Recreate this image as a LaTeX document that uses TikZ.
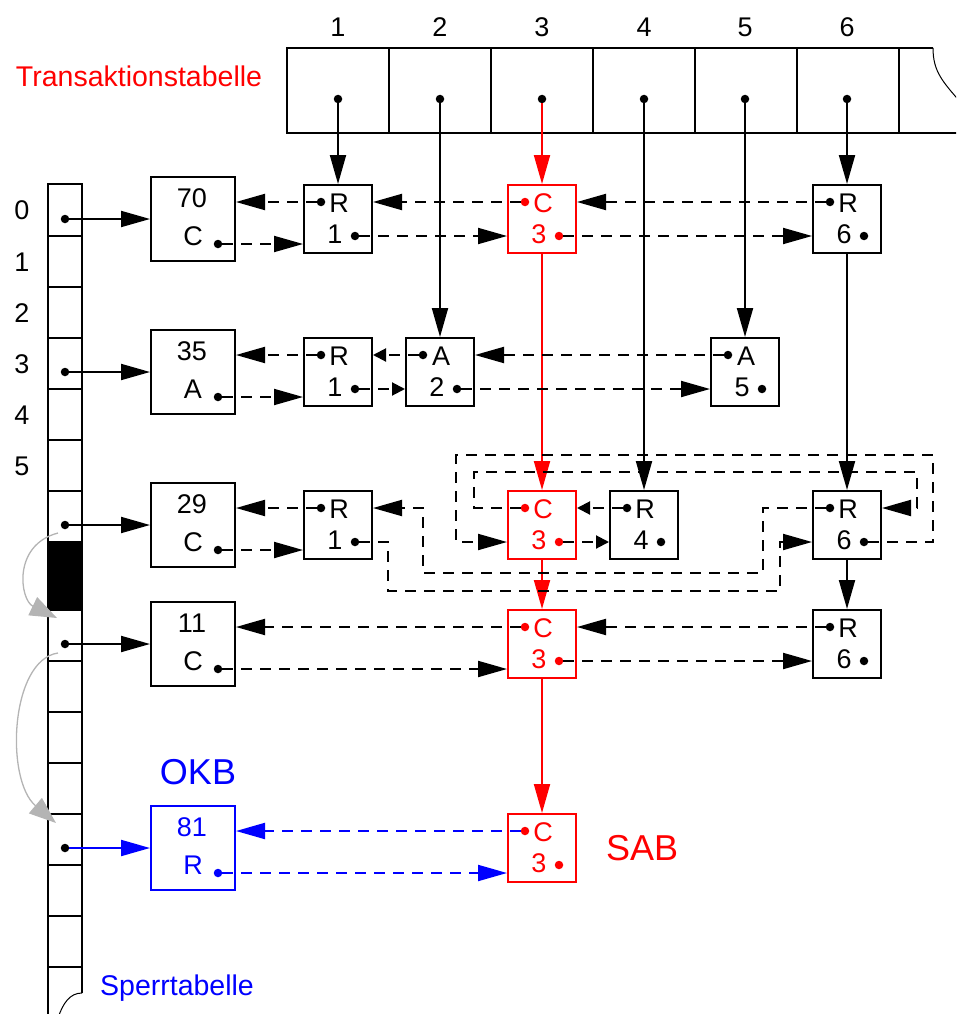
\documentclass[tikz,border=0pt]{standalone}
\usepackage{fontspec}
\setmainfont{Liberation Sans}
\usetikzlibrary{arrows.meta,positioning,calc}
\definecolor{TxRed}{HTML}{FF0000}
\definecolor{OkbBlue}{HTML}{0000FF}
\definecolor{ArcGray}{HTML}{B4B4B4}
\newcommand{\lblfont}{\fontsize{27}{27}\selectfont}
\newcommand{\capfont}{\fontsize{28.5}{30}\selectfont}
\newcommand{\bigfont}{\fontsize{36}{38}\selectfont}
\tikzset{
  % Transaction entry
  TB/.style={rectangle,draw,line width=2pt,
             minimum width=68pt,minimum height=68pt,inner sep=0pt},
  % Lock head entry
  LB/.style={rectangle,draw,line width=2pt,
             minimum width=84pt,minimum height=84pt,inner sep=0pt},
  % Pointer dot
  dotn/.style={circle,fill,inner sep=0pt,minimum size=8.5pt},
  % Texts
  lbl/.style={inner sep=0pt,font=\lblfont},
  % Arrows
  arr/.style={-{Triangle[length=29pt,width=16pt]},line width=2pt},
  sarr/.style={-{Triangle[length=13pt,width=13pt]},line width=2pt},
  garr/.style={-{Triangle[length=27pt,width=20pt]},line width=1.3pt,ArcGray},
  dsh/.style={dash pattern=on 11pt off 8pt},
  tbl/.style={line width=2pt}
}
% transaction entry: [colour]{name}{x}{y}{mode}{tx}
\newcommand{\txbox}[6][black]{%
  \node[TB,draw=#1] (#2) at (#3,#4) {};
  \node[dotn,fill=#1] (#2p) at ([shift={(-17,-17)}]#2.center) {};
  \node[lbl,text=#1] (#2l) at ([shift={(1,-16)}]#2.center) {#5};
  \node[lbl,text=#1] (#2d) at ([shift={(-3,15)}]#2.center) {#6};
  \node[dotn,fill=#1] (#2n) at ([shift={(17,17)}]#2.center) {};
}
% lock head: [colour]{name}{y}{object}{mode}
\newcommand{\lockbox}[5][black]{%
  \node[LB,draw=#1] (#2) at (193,#3) {};
  \node[lbl,text=#1] (#2a) at ([shift={(-1,-21)}]#2.center) {#4};
  \node[lbl,text=#1] (#2b) at ([shift={(0,17)}]#2.center) {#5};
  \node[dotn,fill=#1] (#2n) at ([shift={(25,25)}]#2.center) {};
}

\begin{document}
\begin{tikzpicture}[x=1pt,y=-1pt]
  \clip (0,0) rectangle (956,1014);
  % Transaction table
  \draw[tbl] (933,48) -- (287,48) -- (287,133) -- (960,133);
  \foreach \x in {389,491,593,695,797,899} \draw[tbl] (\x,48) -- (\x,133);
  \draw[line width=1pt] (933,48) .. controls (933,72) and (943,82) .. (962,104);
  \foreach \c/\x in {1/338,2/440,3/542,4/644,5/745,6/847} {
    \node[lbl] (h\c) at (\x,27) {\c};
    \node[dotn] (t\c) at (\x,99) {};
  }
  \node[font=\capfont,text=TxRed,inner sep=0pt] (ttab) at (139,76) {Transaktionstabelle};

  % Lock table
  \draw[tbl] (48,1020) -- (48,184) -- (82,184) -- (82,993);
  \fill (48,541) rectangle (82,611);
  \foreach \y in {236,287,338,389,440,491,661,712,763,814,865,916,967}
    \draw[tbl] (48,\y) -- (82,\y);
  \draw[line width=1pt] (82,993) .. controls (70,993) and (63,1003) .. (58,1018);
  \foreach \i/\y in {0/210,1/262,2/313,3/364,4/415,5/466}
    \node[lbl] (r\i) at (22,\y) {\i};
  \node[font=\capfont,text=OkbBlue,inner sep=0pt,anchor=base west] (stab) at (100,995) {Sperrtabelle};
  \foreach \i/\y in {1/219,2/372,3/525,4/644,5/848}
    \node[dotn] (s\i) at (65,\y) {};

  % Lock heads
  \lockbox{L70}{219}{70}{C}
  \lockbox{L35}{372}{35}{A}
  \lockbox{L29}{525}{29}{C}
  \lockbox{L11}{644}{11}{C}
  \lockbox[OkbBlue]{L81}{848}{81}{R}
  \node[font=\bigfont,text=OkbBlue,inner sep=0pt,above=20pt of L81,xshift=5pt] (okb) {OKB};

  % Transaction entries
  \txbox{b11}{338}{219}{R}{1}
  \txbox[TxRed]{b13}{542}{219}{C}{3}
  \txbox{b16}{847}{219}{R}{6}
  \txbox{b21}{338}{372}{R}{1}
  \txbox{b22}{440}{372}{A}{2}
  \txbox{b25}{745}{372}{A}{5}
  \txbox{b31}{338}{525}{R}{1}
  \txbox[TxRed]{b33}{542}{525}{C}{3}
  \txbox{b34}{644}{525}{R}{4}
  \txbox{b36}{847}{525}{R}{6}
  \txbox[TxRed]{b43}{542}{644}{C}{3}
  \txbox{b46}{847}{644}{R}{6}
  \txbox[TxRed]{b53}{542}{848}{C}{3}
  \node[font=\bigfont,text=TxRed,inner sep=0pt,right=29pt of b53] (sab) {SAB};

  % Lock table -> lock heads
  \draw[arr] (s1) -- (L70);
  \draw[arr] (s2) -- (L35);
  \draw[arr] (s3) -- (L29);
  \draw[arr] (s4) -- (L11);
  \draw[arr,OkbBlue] (s5) -- (L81);
  \draw[garr] (58,533) .. controls (12,545) and (20,600) .. (57,618);
  \draw[garr] (58,653) .. controls (10,660) and (5,780) .. (56,823);

  % Transaction table -> entries
  \draw[arr] (t1) -- (b11);
  \draw[arr] (t2) -- (b22);
  \draw[arr,TxRed] (t3) -- (b13);
  \draw[arr] (t4) -- (b34);
  \draw[arr] (t5) -- (b25);
  \draw[arr] (t6) -- (b16);
  \draw[arr,TxRed] (b13) -- (b33);
  \draw[arr,TxRed] (b33) -- (b43);
  \draw[arr,TxRed] (b43) -- (b53);
  \draw[arr] (b16) -- (b36);
  \draw[arr] (b36) -- (b46);

  % Row 0
  \draw[arr,dsh] (b11p) -- (b11p -| L70.east);
  \draw[arr,dsh] (L70n) -- (L70n -| b11.west);
  \draw[arr,dsh] (b11n) -- (b11n -| b13.west);
  \draw[arr,dsh] (b13p) -- (b13p -| b11.east);
  \draw[arr,dsh] (b13n) -- (b13n -| b16.west);
  \draw[arr,dsh] (b16p) -- (b16p -| b13.east);
  % Row 3
  \draw[arr,dsh] (b21p) -- (b21p -| L35.east);
  \draw[arr,dsh] (L35n) -- (L35n -| b21.west);
  \draw[sarr,dsh] (b21n) -- (b21n -| b22.west);
  \draw[sarr,dsh] (b22p) -- (b22p -| b21.east);
  \draw[arr,dsh] (b22n) -- (b22n -| b25.west);
  \draw[arr,dsh] (b25p) -- (b25p -| b22.east);
  % Row 29
  \draw[arr,dsh] (b31p) -- (b31p -| L29.east);
  \draw[arr,dsh] (L29n) -- (L29n -| b31.west);
  \draw[arr,dsh] (b31n) -| (388,591) -| (780,542) -- (b36.west |- b31n);
  \draw[arr,dsh] (b36p) -| (763,573) -| (423,508) -- (b31.east |- b36p);
  \draw[arr,dsh] (b33p) -| (474,472) -| (917,508) -- (b36.east |- b33p);
  \draw[arr,dsh] (b36n) -| (933,455) -| (456,542) -- (b33.west |- b36n);
  \draw[sarr,dsh] (b33n) -- (b33n -| b34.west);
  \draw[sarr,dsh] (b34p) -- (b34p -| b33.east);
  % Row 11
  \draw[arr,dsh] (b43p) -- (b43p -| L11.east);
  \draw[arr,dsh] (L11n) -- (L11n -| b43.west);
  \draw[arr,dsh] (b43n) -- (b43n -| b46.west);
  \draw[arr,dsh] (b46p) -- (b46p -| b43.east);
  % OKB / SAB
  \draw[arr,dsh,OkbBlue] (b53p) -- (b53p -| L81.east);
  \draw[arr,dsh,OkbBlue] (L81n) -- (L81n -| b53.west);
\end{tikzpicture}
\end{document}
